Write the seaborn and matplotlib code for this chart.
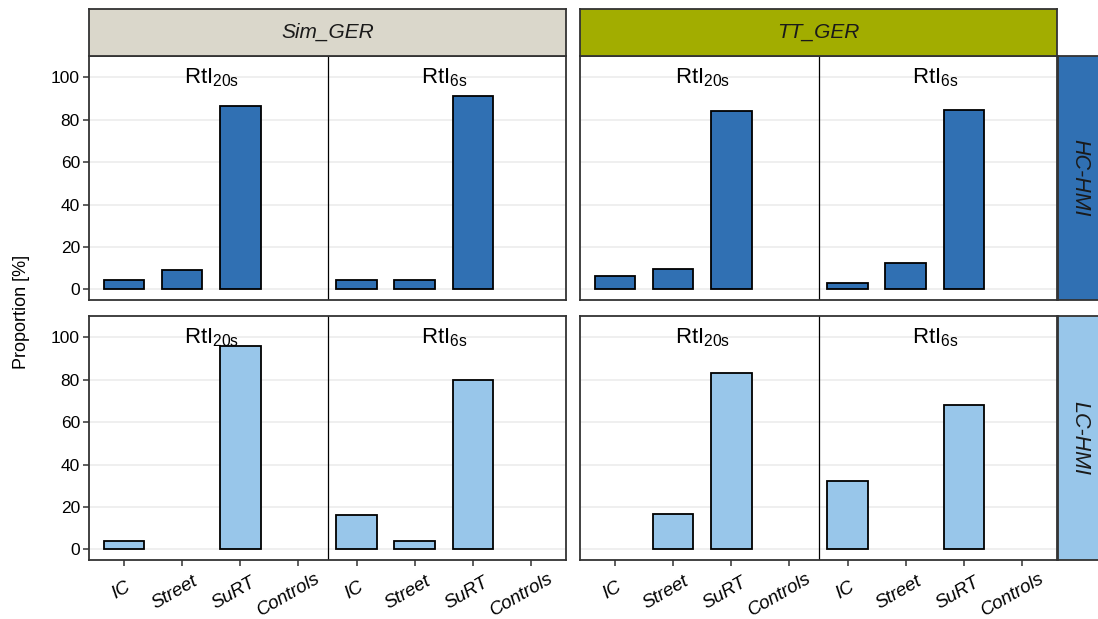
import numpy as np
import pandas as pd
import matplotlib
matplotlib.use("Agg")
import matplotlib.pyplot as plt
from matplotlib.transforms import blended_transform_factory, ScaledTranslation
import seaborn as sns

# --- data -------------------------------------------------------------------
categories = ["IC", "Street", "SuRT", "Controls"]
windows = ["RtI20s", "RtI6s"]
window_labels = [r"$RtI_{20s}$", r"$RtI_{6s}$"]
studies = ["Sim_GER", "TT_GER"]
hmis = ["HC-HMI", "LC-HMI"]

# proportion [%] of first glances per category
sim_hc_20 = [4.5, 9.1, 86.4, 0.0]
sim_hc_6 = [4.5, 4.5, 91.0, 0.0]
tt_hc_20 = [6.4, 9.7, 83.9, 0.0]
tt_hc_6 = [3.1, 12.5, 84.4, 0.0]
sim_lc_20 = [4.0, 0.0, 96.0, 0.0]
sim_lc_6 = [16.0, 4.0, 80.0, 0.0]
tt_lc_20 = [0.0, 16.7, 83.3, 0.0]
tt_lc_6 = [32.0, 0.0, 68.0, 0.0]

values = {
    ("Sim_GER", "HC-HMI", "RtI20s"): sim_hc_20,
    ("Sim_GER", "HC-HMI", "RtI6s"): sim_hc_6,
    ("TT_GER", "HC-HMI", "RtI20s"): tt_hc_20,
    ("TT_GER", "HC-HMI", "RtI6s"): tt_hc_6,
    ("Sim_GER", "LC-HMI", "RtI20s"): sim_lc_20,
    ("Sim_GER", "LC-HMI", "RtI6s"): sim_lc_6,
    ("TT_GER", "LC-HMI", "RtI20s"): tt_lc_20,
    ("TT_GER", "LC-HMI", "RtI6s"): tt_lc_6,
}

rows = []
for (study, hmi, win), vals in values.items():
    for cat, v in zip(categories, vals):
        rows.append(dict(study=study, hmi=hmi, window=win, category=cat,
                         slot=f"{win}:{cat}", value=v))
df = pd.DataFrame(rows)
slot_order = [f"{w}:{c}" for w in windows for c in categories]

# --- styling ----------------------------------------------------------------
sns.set_style("white")
plt.rcParams["font.family"] = ["Liberation Sans", "DejaVu Sans"]
plt.rcParams["mathtext.default"] = "regular"

hmi_colors = {"HC-HMI": "#3070B3", "LC-HMI": "#98C6EA"}
study_colors = {"Sim_GER": "#DAD7CB", "TT_GER": "#A2AD00"}
frame = "#333333"

W, H = 1098, 619
DPI = 100
fig = plt.figure(figsize=(W / DPI, H / DPI), dpi=DPI)
renderer = fig.canvas.get_renderer()


def box(x0, y0, x1, y1):
    """Pixel box (top-left origin) -> figure rect."""
    return [x0 / W, (H - y1) / H, (x1 - x0) / W, (y1 - y0) / H]


def category_labels(ax, labels, angle=30, hjust=0.66, drop_px=29):
    """Rotated italic category labels under the axis, anchored at hjust."""
    base = blended_transform_factory(ax.transData, ax.transAxes)
    a = np.deg2rad(angle)
    for i, lab in enumerate(labels):
        t = ax.text(i, 0, lab, transform=base, ha="center", va="center",
                    fontsize=13.5, fontstyle="italic", color="black",
                    rotation=0, rotation_mode="anchor")
        L = t.get_window_extent(renderer).width
        shift = (0.5 - hjust) * L
        dx = shift * np.cos(a)
        dy = -drop_px + shift * np.sin(a)
        t.set_transform(base + ScaledTranslation(dx / DPI, dy / DPI,
                                                 fig.dpi_scale_trans))
        t.set_rotation(angle)


col_x = [(89, 566), (580, 1057)]
row_y = [(56, 300), (316, 560)]

for ci, study in enumerate(studies):
    for ri, hmi in enumerate(hmis):
        x0, x1 = col_x[ci]
        y0, y1 = row_y[ri]
        ax = fig.add_axes(box(x0, y0, x1, y1))
        sub = df[(df.study == study) & (df.hmi == hmi) & (df.value > 0)]
        sns.barplot(data=sub, x="slot", y="value", order=slot_order,
                    color=hmi_colors[hmi], saturation=1, edgecolor="black",
                    linewidth=1.3, width=0.7, errorbar=None, ax=ax, zorder=3)
        ax.set_xlim(-0.6, 7.6)
        ax.set_ylim(-5, 110)
        ax.set_yticks([0, 20, 40, 60, 80, 100])
        ax.yaxis.grid(True, color="#EBEBEB", linewidth=1.1, zorder=0)
        ax.xaxis.grid(False)
        ax.set_axisbelow(True)
        ax.axvline(3.5, color="black", linewidth=0.9, zorder=4)
        for s in ax.spines.values():
            s.set_color(frame)
            s.set_linewidth(1.3)
            s.set_zorder(5)
        ax.set_xlabel("")
        ax.set_ylabel("")
        for k, lab in enumerate(window_labels):
            ax.text(1.5 + 4 * k, 97, lab, ha="center", va="baseline",
                    fontsize=16, color="black", zorder=6)

        ax.tick_params(axis="both", colors=frame, labelcolor="black",
                       length=4, width=1.1, labelsize=12.5, pad=2.5)
        if ci == 0:
            ax.tick_params(axis="y", left=True, labelleft=True)
        else:
            ax.tick_params(axis="y", left=False, labelleft=False)
        ax.set_xticks(range(8))
        ax.tick_params(axis="x", labelbottom=False)
        if ri == 1:
            ax.tick_params(axis="x", bottom=True)
            category_labels(ax, categories * 2)
        else:
            ax.tick_params(axis="x", bottom=False)

    # column strip
    x0, x1 = col_x[ci]
    sax = fig.add_axes(box(x0, 9, x1, 55.5))
    sax.set_facecolor(study_colors[study])
    sax.set_xticks([])
    sax.set_yticks([])
    for s in sax.spines.values():
        s.set_color(frame)
        s.set_linewidth(1.3)
    sax.text(0.5, 0.5, study, transform=sax.transAxes, ha="center",
             va="center", fontsize=15, fontstyle="italic", color="#1A1A1A")

# row strips
for ri, hmi in enumerate(hmis):
    y0, y1 = row_y[ri]
    rax = fig.add_axes(box(1058, y0, 1102, y1))
    rax.set_facecolor(hmi_colors[hmi])
    rax.set_xticks([])
    rax.set_yticks([])
    for s in rax.spines.values():
        s.set_color(frame)
        s.set_linewidth(1.3)
    rax.text(0.5, 0.5, hmi, transform=rax.transAxes, ha="center",
             va="center", fontsize=15.5, fontstyle="italic", rotation=-90,
             color="#1A1A1A")

fig.text(22 / W, 1 - 312 / H, "Proportion [%]", rotation=90, ha="center",
         va="center", fontsize=13, color="black")

fig.savefig("out.png", dpi=DPI)
